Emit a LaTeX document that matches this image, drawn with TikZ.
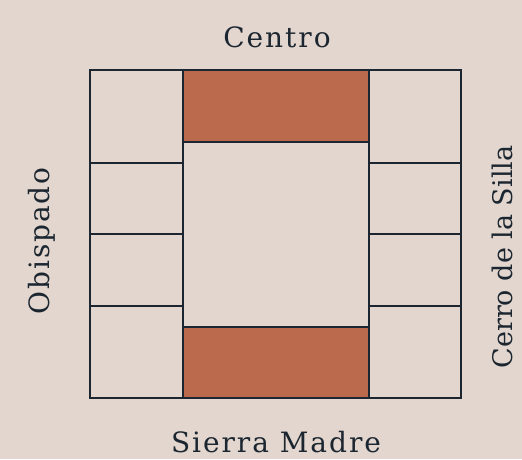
\documentclass[tikz,border=0pt]{standalone}
\usepackage{fontspec}
\setmainfont{DejaVu Serif}[LetterSpace=7]
\newfontfamily\tightfont{DejaVu Serif}
\definecolor{bg}{HTML}{E2D6CE}
\definecolor{brick}{HTML}{BC6A4D}
\definecolor{ink}{HTML}{1C2630}
\begin{document}
\begin{tikzpicture}[x=1pt,y=-1pt,
  cell/.style={draw=ink,line width=2pt},
  redcell/.style={cell,fill=brick},
  lbl/.style={text=ink,font=\fontsize{28}{32}\selectfont,inner sep=0pt}]
\fill[bg] (0,0) rectangle (522,459);
\useasboundingbox (0,0) rectangle (522,459);
% left column
\draw[cell] (90,70) rectangle (183,163);
\draw[cell] (90,163) rectangle (183,234);
\draw[cell] (90,234) rectangle (183,306);
\draw[cell] (90,306) rectangle (183,398);
% right column
\draw[cell] (369,70) rectangle (461,163);
\draw[cell] (369,163) rectangle (461,234);
\draw[cell] (369,234) rectangle (461,306);
\draw[cell] (369,306) rectangle (461,398);
% centre
\draw[cell] (183,142) rectangle (369,327);
\draw[redcell] (183,70) rectangle (369,142);
\draw[redcell] (183,327) rectangle (369,398);
% labels
\node[lbl] (n) at (277,37) {Centro};
\node[lbl] (s) at (276,442) {Sierra Madre};
\node[lbl,rotate=90] (w) at (42,241) {Obispado};
\node[lbl,rotate=90,font=\tightfont\fontsize{27}{32}\selectfont] (e) at (502,257) {Cerro de la Silla};
\end{tikzpicture}
\end{document}
